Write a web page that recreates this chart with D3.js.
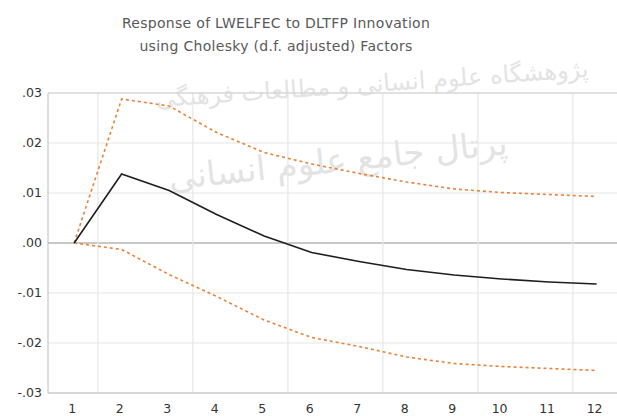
<html>
<head>
<script src="https://d3js.org/d3.v7.min.js"></script>
<style>
  body { margin: 0; background: #fff; }
  text { font-family: "DejaVu Sans", sans-serif; }
</style>
</head>
<body>
<script>
// periods on the x axis
var periods = [1, 2, 3, 4, 5, 6, 7, 8, 9, 10, 11, 12];
// impulse response and the +/- 2 s.e. bands
var response = [0, 0.0138, 0.0105, 0.0057, 0.0014, -0.0019, -0.0037, -0.0053, -0.0064, -0.0072, -0.0078, -0.0082];
var upper = [0, 0.0288, 0.0274, 0.0221, 0.0181, 0.0158, 0.0139, 0.0122, 0.0108, 0.0101, 0.0097, 0.0093];
var lower = [0, -0.0013, -0.0063, -0.0107, -0.0154, -0.0189, -0.0207, -0.0228, -0.0241, -0.0247, -0.0251, -0.0255];
var yTicks = [-0.03, -0.02, -0.01, 0, 0.01, 0.02, 0.03];
var xGrid = [1.5, 3.5, 5.5, 7.5, 9.5, 11.5];
var titleLines = ["Response of LWELFEC to DLTFP Innovation", "using Cholesky (d.f. adjusted) Factors"];

var W = 617, H = 416;
var svg = d3.select("body").append("svg")
    .attr("width", W)
    .attr("height", H);

var x = d3.scaleLinear().domain([0.45, 12.55]).range([48, 622.75]);
var y = d3.scaleLinear().domain([-0.03, 0.03]).range([393, 93]);

// faint watermark
var wm = svg.append("g").style("fill", "#e3e3e3").style("font-family", "DejaVu Sans, sans-serif");
wm.append("text").attr("x", 372).attr("y", 92).attr("text-anchor", "middle")
    .attr("transform", "rotate(-4,372,80)")
    .style("font-size", "24px").text("پژوهشگاه علوم انسانی و مطالعات فرهنگی");
wm.append("text").attr("x", 338).attr("y", 172).attr("text-anchor", "middle")
    .attr("transform", "rotate(-6,338,160)")
    .style("font-size", "34px").text("پرتال جامع علوم انسانی");

// grid
svg.append("g").selectAll("line.h")
    .data(yTicks)
    .enter().append("line")
    .attr("x1", x.range()[0]).attr("x2", W)
    .attr("y1", d => y(d)).attr("y2", d => y(d))
    .attr("stroke", d => d === 0 ? "#c8c8c8" : "#e6e6e6")
    .attr("stroke-width", d => d === 0 ? 2 : 1.2);

svg.append("g").selectAll("line.v")
    .data(xGrid)
    .enter().append("line")
    .attr("x1", d => x(d)).attr("x2", d => x(d))
    .attr("y1", y(0.03)).attr("y2", y(-0.03))
    .attr("stroke", "#e6e6e6")
    .attr("stroke-width", 1.2);

// frame
svg.append("line").attr("x1", x.range()[0]).attr("x2", W).attr("y1", y(0.03)).attr("y2", y(0.03)).attr("stroke", "#cfcfcf");
svg.append("line").attr("x1", x.range()[0]).attr("x2", W).attr("y1", y(-0.03)).attr("y2", y(-0.03)).attr("stroke", "#bdbdbd");
svg.append("line").attr("x1", x.range()[0]).attr("x2", x.range()[0]).attr("y1", y(0.03)).attr("y2", y(-0.03)).attr("stroke", "#bdbdbd");

// y labels
svg.append("g").selectAll("text")
    .data(yTicks)
    .enter().append("text")
    .attr("x", 42)
    .attr("y", d => y(d))
    .attr("dy", "0.35em")
    .attr("text-anchor", "end")
    .style("font-size", "12.5px")
    .style("fill", "#333")
    .text(d => (d < 0 ? "-" : "") + d3.format(".2f")(Math.abs(d)).replace(/^0/, ""));

// x labels
svg.append("g").selectAll("text")
    .data(periods)
    .enter().append("text")
    .attr("x", d => x(d) - 2)
    .attr("y", 413)
    .attr("text-anchor", "middle")
    .style("font-size", "12.5px")
    .style("fill", "#333")
    .text(d => d);

// title
svg.append("g").selectAll("text")
    .data(titleLines)
    .enter().append("text")
    .attr("x", 276)
    .attr("y", (d, i) => 28 + i * 23)
    .attr("text-anchor", "middle")
    .style("font-size", "14px")
    .style("letter-spacing", "0.3px")
    .style("fill", "#595959")
    .text(d => d);

// lines
var line = d3.line().x((d, i) => x(periods[i])).y(d => y(d));

svg.append("path").datum(upper)
    .attr("d", line).attr("fill", "none")
    .attr("stroke", "#e8823a").attr("stroke-width", 1.6)
    .attr("stroke-dasharray", "3,3");
svg.append("path").datum(lower)
    .attr("d", line).attr("fill", "none")
    .attr("stroke", "#e8823a").attr("stroke-width", 1.6)
    .attr("stroke-dasharray", "3,3");
svg.append("path").datum(response)
    .attr("d", line).attr("fill", "none")
    .attr("stroke", "#1e1e1e").attr("stroke-width", 1.6);
</script>
</body>
</html>
